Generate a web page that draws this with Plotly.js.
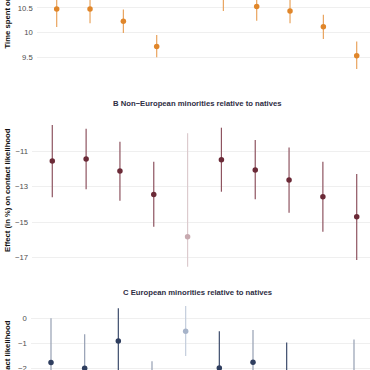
<!DOCTYPE html>
<html>
<head>
<meta charset="utf-8">
<script src="https://cdn.plot.ly/plotly-3.0.1.min.js"></script>
<style>
html,body{margin:0;padding:0;width:370px;height:370px;overflow:hidden;background:#fff;}
#chart{position:absolute;left:0;top:-100px;width:384px;height:580px;}
</style>
</head>
<body>
<div id="chart"></div>
<script>
// category positions (1..10)
const positions = [1, 2, 3, 4, 5, 6, 7, 8, 9, 10];
// style group of each point: 'main', 'light', 'ref'
const groupA = ['main','main','main','main','ref','main','main','main','main','main'];
const groupB = ['main','main','main','main','ref','main','main','main','main','main'];
const groupC = ['light','light','main','light','ref','main','light','main','light','light'];

// Panel A: time spent
const estA = [10.48, 10.48, 10.23, 9.72, 11.5, 10.80, 10.53, 10.44, 10.12, 9.53];
const loA  = [10.115, 10.19, 9.99, 9.50, 10.8, 10.44, 10.24, 10.19, 9.87, 9.26];
const hiA  = [10.85, 10.77, 10.47, 9.95, 12.2, 11.16, 10.82, 10.69, 10.36, 9.82];

// Panel B: non-European minorities relative to natives
const estB = [-11.56, -11.45, -12.12, -13.44, -15.82, -11.49, -12.07, -12.63, -13.57, -14.70];
const loB  = [-13.60, -13.15, -13.80, -15.26, -17.51, -13.29, -13.72, -14.47, -15.54, -17.13];
const hiB  = [-9.54, -9.75, -10.48, -11.60, -10.00, -9.69, -10.38, -10.81, -11.60, -12.29];

// Panel C: European minorities relative to natives
const estC = [-1.76, -1.99, -0.90, -2.90, -0.51, -1.98, -1.75, -2.40, -3.50, -2.40];
const loC  = [-3.52, -3.35, -2.20, -4.10, -1.50, -3.45, -3.04, -3.84, -4.80, -3.96];
const hiC  = [0.00, -0.63, 0.40, -1.71, 0.49, -0.51, -0.46, -0.96, -2.20, -0.84];

const ticksA = [9.5, 10, 10.5];
const ticksB = [-17, -15, -13, -11];
const ticksC = [-2, -1, 0];

const titleB = 'B Non\u2212European minorities relative to natives';
const titleC = 'C European minorities relative to natives';
const yTitleA = 'Time spent on profile (in seconds)';
const yTitle = 'Effect (in %) on contact likelihood';

const styles = {
  A: {main:{pt:'#e0862a', ln:'#e9a45e'}, light:{pt:'#e0862a', ln:'#eebb88'}, ref:{pt:'#e8b98a', ln:'#f0d3b5'}},
  B: {main:{pt:'#6b2a37', ln:'#8e5460'}, light:{pt:'#6b2a37', ln:'#b08890'}, ref:{pt:'#c7a9af', ln:'#dccbce'}},
  C: {main:{pt:'#2f3e5f', ln:'#3d4c6c'}, light:{pt:'#2f3e5f', ln:'#959fb3'}, ref:{pt:'#a6b3c9', ln:'#c4cddc'}}
};

const traces = [];
function addPanel(key, est, lo, hi, groups, xa, ya) {
  ['light','main','ref'].forEach(g => {
    const idx = positions.map((p,i)=>i).filter(i => groups[i] === g);
    if (!idx.length) return;
    traces.push({
      type: 'scatter', mode: 'markers',
      x: idx.map(i => positions[i]),
      y: idx.map(i => est[i]),
      xaxis: xa, yaxis: ya,
      marker: {size: 5.5, color: styles[key][g].pt},
      error_y: {type: 'data', symmetric: false,
        array: idx.map(i => hi[i] - est[i]),
        arrayminus: idx.map(i => est[i] - lo[i]),
        color: styles[key][g].ln, thickness: 1.2, width: 0},
      showlegend: false, hoverinfo: 'skip'
    });
  });
}
addPanel('A', estA, loA, hiA, groupA, 'x', 'y');
addPanel('B', estB, loB, hiB, groupB, 'x2', 'y2');
addPanel('C', estC, loC, hiC, groupC, 'x3', 'y3');

const W = 384, H = 580;
const tickFont = {family: 'Liberation Sans, Arial, sans-serif', size: 7.7, color: '#4d4d4d'};
function xax(l, r) {
  return {domain: [l / W, r / W], range: [0.4, 10.6], showgrid: false, zeroline: false,
          showticklabels: false, ticks: '', showline: false, fixedrange: true};
}
function yax(t, b, range, vals) {
  return {domain: [1 - b / H, 1 - t / H], range: range, tickvals: vals, ticktext: vals.map(v => String(v).replace('-', '\u2212')),
          showgrid: true, gridcolor: '#ebebeb', gridwidth: 0.8, zeroline: false, showline: false,
          ticks: '', tickfont: tickFont, ticklabelstandoff: 3, fixedrange: true};
}
const off = 100;
const annFont = {family: 'Liberation Sans, Arial, sans-serif', size: 7.7, color: '#2e2e44', weight: 'bold'};
const axTitleFont = {family: 'Liberation Sans, Arial, sans-serif', size: 7.7, color: '#111111', weight: 'bold'};

const layout = {
  width: W, height: H,
  margin: {l: 0, r: 0, t: 0, b: 0},
  paper_bgcolor: '#ffffff', plot_bgcolor: '#ffffff',
  xaxis: xax(36.7, 376.7),
  yaxis: yax(-85 + off, 73 + off, [9.18, 12.386], ticksA),
  xaxis2: xax(32.0, 377.0),
  yaxis2: Object.assign(yax(117 + off, 269 + off, [-17.637, -9.088], ticksB), {anchor: 'x2'}),
  xaxis3: xax(30.8, 374.2),
  yaxis3: Object.assign(yax(300 + off, 458 + off, [-5.57, 0.732], ticksC), {anchor: 'x3'}),
  annotations: [
    {text: '<b>' + titleB + '</b>', xref: 'paper', yref: 'paper', x: 197 / W, y: 1 - (103 + off) / H,
     xanchor: 'center', yanchor: 'middle', showarrow: false, font: annFont},
    {text: '<b>' + titleC + '</b>', xref: 'paper', yref: 'paper', x: 197 / W, y: 1 - (292.7 + off) / H,
     xanchor: 'center', yanchor: 'middle', showarrow: false, font: annFont},
    {text: '<b>' + yTitleA + '</b>', xref: 'paper', yref: 'paper', x: 7 / W, y: 1 - (51 + off) / H,
     xanchor: 'center', yanchor: 'bottom', textangle: -90, showarrow: false, font: axTitleFont},
    {text: '<b>' + yTitle + '</b>', xref: 'paper', yref: 'paper', x: 7 / W, y: 1 - (190 + off) / H,
     xanchor: 'center', yanchor: 'middle', textangle: -90, showarrow: false, font: axTitleFont},
    {text: '<b>' + yTitle + '</b>', xref: 'paper', yref: 'paper', x: 7 / W, y: 1 - (382 + off) / H,
     xanchor: 'center', yanchor: 'middle', textangle: -90, showarrow: false, font: axTitleFont}
  ]
};
layout.xaxis2.anchor = 'y2';
layout.xaxis3.anchor = 'y3';
layout.xaxis.anchor = 'y';

Plotly.newPlot('chart', traces, layout, {displayModeBar: false, staticPlot: true});
</script>
</body>
</html>
